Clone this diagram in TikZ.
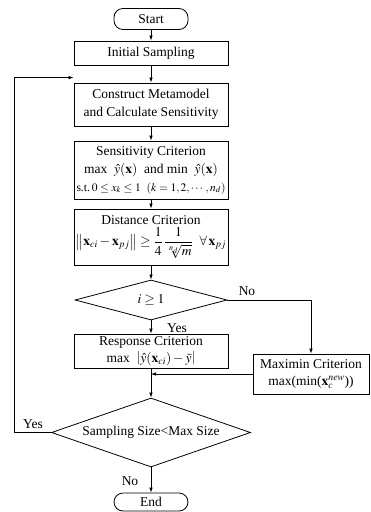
\documentclass[tikz,border=0pt]{standalone}
\usepackage{amsmath,amssymb}
\usepackage{mathptmx}
\usepackage{fontspec}
\setmainfont{Liberation Serif}
\usetikzlibrary{arrows.meta, positioning, calc, shapes.geometric}

\tikzset{
  box/.style={draw, line width=0.8pt, align=center, inner sep=1pt,
    font=\fontsize{13.5}{17.5}\selectfont},
  term/.style={box, rounded corners=9pt, minimum width=74pt, minimum height=21pt},
  proc/.style={box, minimum width=154pt},
  cond/.style={box, diamond, inner sep=0pt},
  lbl/.style={inner sep=1pt, font=\fontsize{13.5}{16}\selectfont},
  arr/.style={line width=0.7pt, -{Latex[length=5pt,width=3.5pt]}}
}

\begin{document}
\begin{tikzpicture}[x=1pt, y=-1pt]
  \useasboundingbox (0,0) rectangle (370,512);
  % main column
  \node[term] (start) at (151,19) {Start};
  \node[proc, minimum height=24pt] (init) at (151,53) {Initial Sampling};
  \node[proc, minimum height=43pt] (cons) at (151,104.5) {Construct Metamodel\\and Calculate Sensitivity};
  \node[proc, minimum height=58pt, inner sep=0pt] (sens) at (151,170)
    {Sensitivity Criterion\\[1pt]max \ $\hat{y}(\mathbf{x})$ \ and min \ $\hat{y}(\mathbf{x})$\\
     {\fontsize{11.5}{14}\selectfont s.t.\,$0\le x_k\le 1$ \ $(k=1,2,\cdots,n_d)$}};
  \node[proc, minimum height=56pt, inner sep=0pt] (dist) at (151,237)
    {Distance Criterion\\[2pt]
     $\left\|\mathbf{x}_{ci}-\mathbf{x}_{pj}\right\|\ge\dfrac{1}{4}\,\dfrac{1}{\sqrt[n_d]{m}}\ \ \forall\,\mathbf{x}_{pj}$};
  \node[cond, aspect=3.8, minimum width=152pt, minimum height=40pt] (chk) at (151,300) {$i\ge1$};
  \node[proc, minimum height=34pt, inner sep=0pt] (resp) at (151,351)
    {Response Criterion\\[-1pt] max \ $\left|\hat{y}(\mathbf{x}_{ci})-\bar{y}\right|$};
  \node[box, minimum width=116pt, minimum height=40pt] (maxi) at (311,374)
    {Maximin Criterion\\ max(min($\mathbf{x}_c^{\mathit{new}}$))};
  \node[cond, aspect=2.88, minimum width=199pt, minimum height=69pt] (size) at (151,432.5) {Sampling Size<Max Size};
  \node[term, minimum height=18pt] (fin) at (151,502) {End};

  % flow
  \draw[arr] (start) -- (init);
  \draw[arr] (init) -- (cons);
  \draw[arr] (cons) -- (sens);
  \draw[arr] (sens) -- (dist);
  \draw[arr] (dist) -- (chk);
  \draw[arr] (chk) -- (resp);
  \draw[arr] (chk.east) -| (maxi.north);
  \draw[arr] (resp) -- (size);
  \draw[arr] (maxi.west) -- (maxi.west -| resp.south);
  \draw[arr] (size) -- (fin);
  % loop back
  \coordinate (back) at ($(cons.north west)+(0,-5)$);
  \draw[arr] (size.west) -- (14,432.5) |- (back);

  % branch labels
  \node[lbl] (yes1) at (177,328) {Yes};
  \node[lbl] (no1) at (247,291) {No};
  \node[lbl] (yes2) at (33,424) {Yes};
  \node[lbl] (no2) at (130,481) {No};
\end{tikzpicture}
\end{document}
